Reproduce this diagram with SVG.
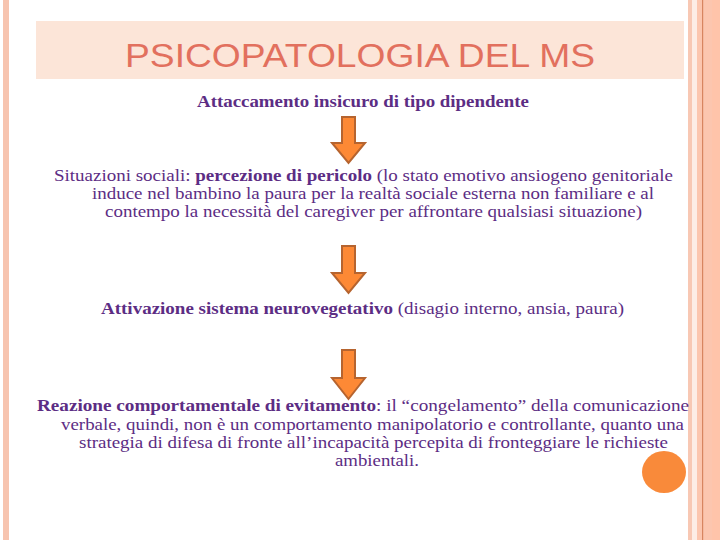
<svg xmlns="http://www.w3.org/2000/svg" width="720" height="540" viewBox="0 0 720 540">
<style>
.t{font-family:'Liberation Serif',serif;font-size:17px;fill:#5C2D84}
.b{font-weight:bold}
.title{font-family:'Liberation Sans',sans-serif;font-size:34px;fill:#E2705E}
.arrow{fill:#FD8935;stroke:#B6642F;stroke-width:2;stroke-linejoin:miter}
</style>
<rect x="0" y="0" width="720" height="540" fill="#FFFFFF"/>
<g id="frame">
<rect x="3" y="0" width="6" height="540" fill="#F7C4AF"/>
<rect x="688" y="0" width="4" height="540" fill="#F8C8B4"/>
<rect x="692" y="0" width="5" height="540" fill="#FDEDE6"/>
<rect x="697" y="0" width="23" height="540" fill="#FCC6AF"/>
<rect x="702" y="0" width="1.2" height="540" fill="#D88560"/>
<rect x="712" y="0" width="8" height="540" fill="#FFC4AA"/>
</g>
<g id="title">
<rect x="36" y="21" width="648" height="58" fill="#FCE5D8"/>
<text class="title" x="125" y="67" textLength="470" lengthAdjust="spacingAndGlyphs">PSICOPATOLOGIA DEL MS</text>
</g>
<g id="node1">
<text class="t b" x="197" y="107" textLength="332" lengthAdjust="spacingAndGlyphs">Attaccamento insicuro di tipo dipendente</text>
</g>
<g id="node2">
<text class="t" x="54" y="181" textLength="619" lengthAdjust="spacingAndGlyphs">Situazioni sociali: <tspan class="b">percezione di pericolo</tspan> (lo stato emotivo ansiogeno genitoriale</text>
<text class="t" x="92" y="199" textLength="562" lengthAdjust="spacingAndGlyphs">induce nel bambino la paura per la realtà sociale esterna non familiare e al</text>
<text class="t" x="105" y="217" textLength="537" lengthAdjust="spacingAndGlyphs">contempo la necessità del caregiver per affrontare qualsiasi situazione)</text>
</g>
<g id="node3">
<text class="t" x="101" y="314" textLength="523" lengthAdjust="spacingAndGlyphs"><tspan class="b">Attivazione sistema neurovegetativo</tspan> (disagio interno, ansia, paura)</text>
</g>
<g id="node4">
<text class="t" x="37" y="411" textLength="652" lengthAdjust="spacingAndGlyphs"><tspan class="b">Reazione comportamentale di evitamento</tspan>:  il “congelamento” della comunicazione</text>
<text class="t" x="61" y="430" textLength="623" lengthAdjust="spacingAndGlyphs">verbale, quindi, non è un comportamento manipolatorio e controllante, quanto una</text>
<text class="t" x="79" y="448" textLength="589" lengthAdjust="spacingAndGlyphs">strategia di difesa di fronte all’incapacità percepita di fronteggiare le richieste</text>
<text class="t" x="335" y="466" textLength="84" lengthAdjust="spacingAndGlyphs">ambientali.</text>
</g>
<g id="connectors">
<path class="arrow" d="M342 117 H355 V143 H365 L348.5 163 L332 143 H342 Z"/>
<path class="arrow" d="M342 246 H355 V273 H365 L348.5 293 L332 273 H342 Z"/>
<path class="arrow" d="M342 350 H355 V378 H365 L348.5 399 L332 378 H342 Z"/>
</g>
<g id="dot">
<ellipse cx="664" cy="472" rx="22" ry="21" fill="#F98A3A"/>
</g>
</svg>
